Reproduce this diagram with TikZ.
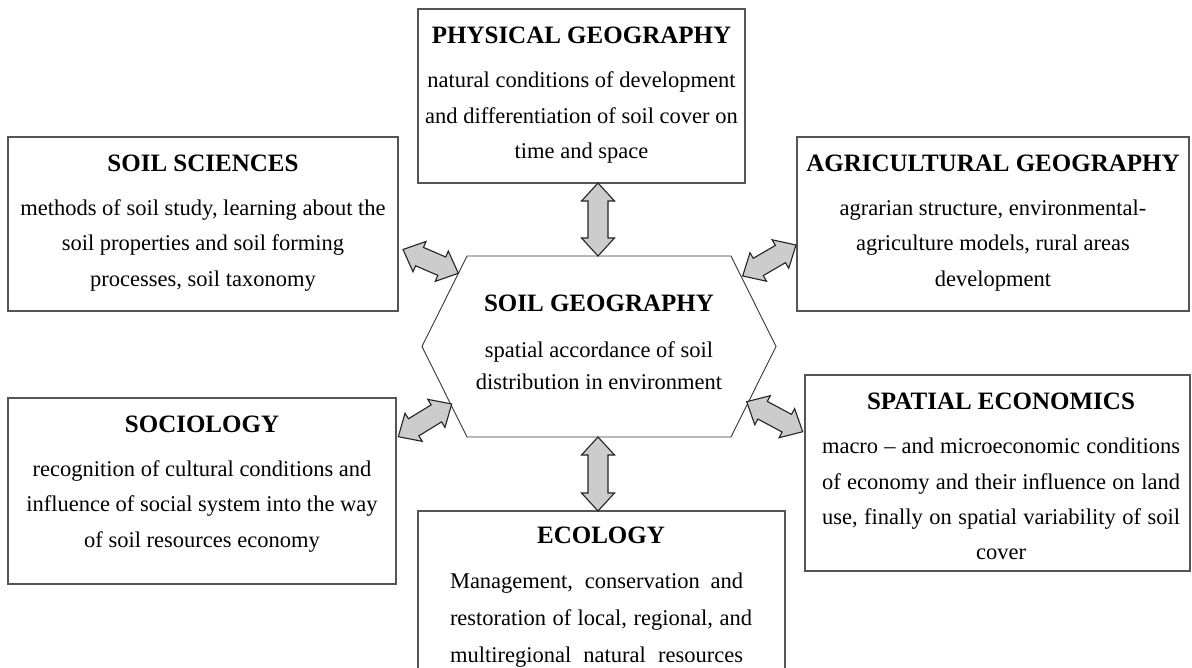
\documentclass[tikz,border=0pt]{standalone}
\usepackage{fontspec}
\setmainfont{Liberation Serif}
\usetikzlibrary{calc}

\definecolor{boxline}{RGB}{85,85,85}
\definecolor{hexline}{RGB}{55,55,55}
\definecolor{arrowline}{RGB}{35,35,35}
\definecolor{arrowfill}{RGB}{204,204,204}

% bold heading inside a box
\newcommand\boxtitle[1]{{\fontsize{25}{30}\selectfont\bfseries #1}}

% a broad two-headed block arrow from #1 to #2
\newcommand\twoway[2]{%
  \coordinate (ha) at ($(#1)!18pt!(#2)$);
  \coordinate (hb) at ($(#2)!18pt!(#1)$);
  \draw[blockarrow] (#1) -- ($(ha)!16.5pt!90:(#2)$) -- ($(ha)!10pt!90:(#2)$)
    -- ($(hb)!10pt!-90:(#1)$) -- ($(hb)!16.5pt!-90:(#1)$) -- (#2)
    -- ($(hb)!16.5pt!90:(#1)$) -- ($(hb)!10pt!90:(#1)$)
    -- ($(ha)!10pt!-90:(#2)$) -- ($(ha)!16.5pt!-90:(#2)$) -- cycle;}

\begin{document}
\begin{tikzpicture}[x=1pt,y=-1pt,
  box/.style={draw=boxline, line width=1.5pt, inner sep=0pt},
  boxtext/.style={inner sep=0pt, align=center, anchor=north,
    font=\fontsize{22.5}{35.3}\selectfont},
  hexagon/.style={draw=hexline, line width=0.9pt},
  blockarrow/.style={draw=arrowline, fill=arrowfill, line width=1.1pt, line join=miter},
]
\clip (0,0) rectangle (1192,668);
\fill[white] (0,0) rectangle (1192,668);

% frames of the surrounding disciplines
\node[box, minimum width=327pt, minimum height=174pt] (phys) at (581.5,96) {};
\node[box, minimum width=390pt, minimum height=174pt] (sci)  at (203,224) {};
\node[box, minimum width=392pt, minimum height=174pt] (agri) at (993,224) {};
\node[box, minimum width=388pt, minimum height=186pt] (soc)  at (202,491) {};
\node[box, minimum width=385pt, minimum height=196pt] (econ) at (997.5,473) {};
\node[box, minimum width=367pt, minimum height=190pt] (eco)  at (601.5,606) {};

% their texts
\node[boxtext] (physText) at (581.5,27)
  {\boxtitle{PHYSICAL GEOGRAPHY}\\[8.7pt]
   natural conditions of development\\
   and differentiation of soil cover on\\
   time and space};

\node[boxtext] (sciText) at (203,154.7)
  {\boxtitle{SOIL SCIENCES}\\[8.7pt]
   methods of soil study, learning about the\\
   soil properties and soil forming\\
   processes, soil taxonomy};

\node[boxtext] (agriText) at (993,154.7)
  {\boxtitle{AGRICULTURAL GEOGRAPHY}\\[8.7pt]
   agrarian structure, environmental-\\
   agriculture models, rural areas\\
   development};

\node[boxtext] (socText) at (202,415.7)
  {\boxtitle{SOCIOLOGY}\\[8.7pt]
   recognition of cultural conditions and\\
   influence of social system into the way\\
   of soil resources economy};

\node[boxtext] (econText) at (1001,393)
  {\boxtitle{SPATIAL ECONOMICS}\\[8.7pt]
   \makebox[358pt][s]{macro -- and microeconomic conditions}\\
   \makebox[358pt][s]{of economy and their influence on land}\\
   \makebox[358pt][s]{use, finally on spatial variability of soil}\\
   cover};

\node[boxtext, font=\fontsize{22.5}{37}\selectfont] (ecoText) at (601,527)
  {\boxtitle{ECOLOGY}\\[8pt]
   \makebox[302pt][l]{\makebox[293pt][s]{Management, conservation and}}\\
   \makebox[302pt][s]{restoration of local, regional, and}\\
   \makebox[302pt][l]{\makebox[293pt][s]{multiregional natural resources}}};

% central hexagon
\coordinate (hexW)  at (422,346.5);
\coordinate (hexNW) at (467,256);
\coordinate (hexNE) at (731,256);
\coordinate (hexE)  at (776,346.5);
\coordinate (hexSE) at (731,437);
\coordinate (hexSW) at (467,437);
\draw[hexagon] (hexW) -- (hexNW) -- (hexNE) -- (hexE) -- (hexSE) -- (hexSW) -- cycle;
\node[inner sep=0pt, align=center, font=\fontsize{22.5}{32}\selectfont] (geo) at (599,342.5)
  {\boxtitle{SOIL GEOGRAPHY}\\[14pt]
   spatial accordance of soil\\
   distribution in environment};

% arrow ends on the boxes and on the hexagon
\coordinate (physEnd) at (598,183);
\coordinate (geoTop)  at (598,256);
\coordinate (geoBot)  at (598,437);
\coordinate (ecoEnd)  at (598,511);
\coordinate (sciEnd)  at (403,249.5);
\coordinate (geoNWe)  at (458.3,273.3);
\coordinate (agriEnd) at (796,245);
\coordinate (geoNEe)  at (742.7,276);
\coordinate (socEnd)  at (398.3,436.7);
\coordinate (geoSWe)  at (451.7,404);
\coordinate (econEnd) at (802.7,431.7);
\coordinate (geoSEe)  at (746.7,401.7);

\twoway{physEnd}{geoTop}
\twoway{geoBot}{ecoEnd}
\twoway{sciEnd}{geoNWe}
\twoway{agriEnd}{geoNEe}
\twoway{socEnd}{geoSWe}
\twoway{econEnd}{geoSEe}
\end{tikzpicture}
\end{document}
